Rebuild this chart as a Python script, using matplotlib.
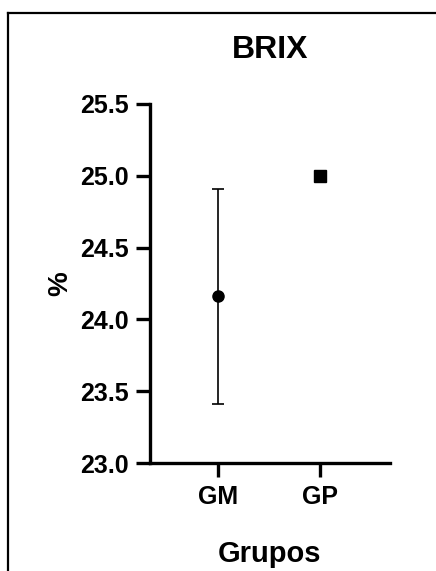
import matplotlib
matplotlib.use('Agg')
import matplotlib.pyplot as plt
from matplotlib.lines import Line2D

groups = ['GM', 'GP']
means = [24.16, 25.0]
errors = [0.75, 0.0]
markers = ['o', 's']
yticks = [23.0, 23.5, 24.0, 24.5, 25.0, 25.5]

plt.rcParams['font.family'] = ['Liberation Sans', 'DejaVu Sans']
plt.rcParams['font.weight'] = 'bold'

fig = plt.figure(figsize=(4.36, 5.71), dpi=100)
ax = fig.add_axes([0.344, 0.189, 0.550, 0.629])

for i, (m, e, mk) in enumerate(zip(means, errors, markers)):
    if e > 0:
        ax.errorbar(i, m, yerr=e, fmt='none', ecolor='black', elinewidth=1.2,
                    capsize=4, capthick=1.2)
    ax.plot(i, m, marker=mk, color='black', markersize=8,
            linestyle='none')

ax.set_xlim(-0.667, 1.686)
ax.set_ylim(23.0, 25.5)
ax.set_xticks(range(len(groups)))
ax.set_xticklabels(groups)
ax.set_yticks(yticks)
ax.set_yticklabels([f'{v:.1f}' for v in yticks])
ax.tick_params(labelsize=18, width=2.4, length=10, pad=5)
ax.tick_params(axis='x', pad=6)
for s in ['top', 'right']:
    ax.spines[s].set_visible(False)
for s in ['left', 'bottom']:
    ax.spines[s].set_linewidth(2.4)
ax.spines['left'].set_bounds(23.0, 25.5)

ax.set_title('BRIX', fontsize=23, fontweight='bold', pad=33)
ax.set_ylabel('%', fontsize=20, fontweight='bold', labelpad=5)
ax.set_xlabel('Grupos', fontsize=21, fontweight='bold', labelpad=22)

# outer frame (cropped at right and bottom)
fig.add_artist(Line2D([0.018, 1.0], [0.977, 0.977], color='black', lw=1.6))
fig.add_artist(Line2D([0.018, 0.018], [0.0, 0.977], color='black', lw=1.6))

fig.savefig('out.png', dpi=100)
